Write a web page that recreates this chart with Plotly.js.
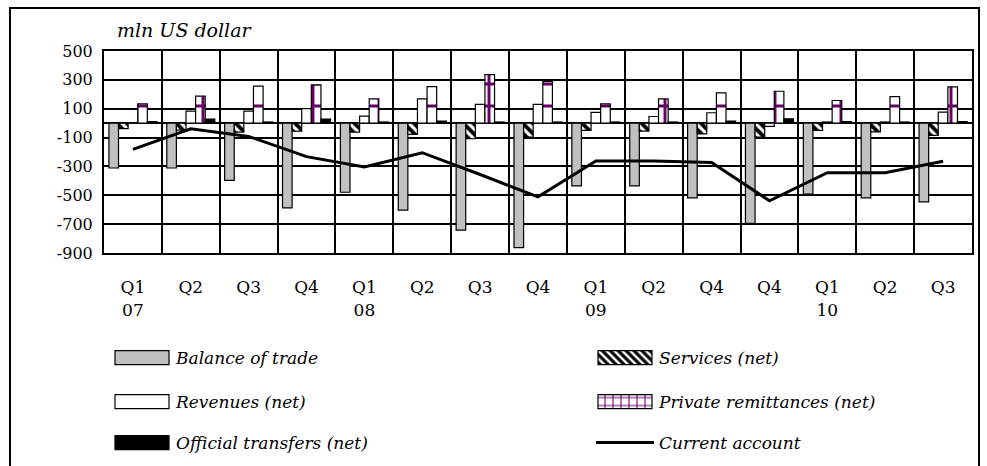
<!DOCTYPE html>
<html>
<head>
<meta charset="utf-8">
<script src="https://cdn.plot.ly/plotly-3.0.1.min.js"></script>
<style>
  html, body { margin: 0; padding: 0; background: #fff; }
  #chart { width: 987px; height: 466px; }
</style>
</head>
<body>
<div id="chart"></div>
<script>
// ---- data (mln US dollar) ----
const periods = ["07Q1","07Q2","07Q3","07Q4","08Q1","08Q2","08Q3","08Q4","09Q1","09Q2","09Q3","09Q4","10Q1","10Q2","10Q3"];
const tickLabels = ["Q1<br>07","Q2","Q3","Q4","Q1<br>08","Q2","Q3","Q4","Q1<br>09","Q2","Q4","Q4","Q1<br>10","Q2","Q3"];
const balanceOfTrade = [-311,-311,-396,-587,-479,-603,-741,-863,-435,-435,-518,-695,-492,-518,-545];
const servicesNet = [-38,-48,-62,-55,-62,-78,-108,-97,-50,-55,-75,-97,-50,-60,-85];
const revenuesNet = [3,83,83,100,48,168,130,130,74,46,72,-22,8,8,76];
const remittancesNet = [134,187,256,265,168,253,336,290,134,168,210,221,157,184,251];
const officialTransfers = [10,28,8,28,8,15,8,8,8,8,15,30,10,8,10];
const currentAccount = [-182,-39,-92,-232,-304,-205,-356,-511,-262,-262,-273,-538,-343,-343,-264];
const yTickVals = [500,300,100,-100,-300,-500,-700,-900];
const yTickText = ["500","300","100","-100","-300","-500","-700","-900"];

const FONT = "DejaVu Serif, Liberation Serif, serif";
const outline = {color: "#000", width: 1.2};

const traces = [
  {type: "bar", name: "Balance of trade", x: periods, y: balanceOfTrade, showlegend: true,
   marker: {color: "#c0c0c0", line: outline}, legend: "legend"},
  {type: "bar", name: "Services (net)", x: periods, y: servicesNet, showlegend: true,
   marker: {color: "#fff", line: outline,
            pattern: {shape: "\\", fgcolor: "#000", bgcolor: "#fff", size: 7, solidity: 0.55}},
   legend: "legend2"},
  {type: "bar", name: "Revenues (net)", x: periods, y: revenuesNet, showlegend: true,
   marker: {color: "#fff", line: outline}, legend: "legend3"},
  {type: "bar", name: "Private remittances (net)", x: periods, y: remittancesNet, showlegend: true,
   marker: {color: "#fff", line: outline,
            pattern: {shape: "+", fgcolor: "#660066", bgcolor: "#fff", size: 22, solidity: 0.25}},
   legend: "legend4"},
  {type: "bar", name: "Official transfers (net)", x: periods, y: officialTransfers, showlegend: true,
   marker: {color: "#000", line: outline}, legend: "legend5"},
  {type: "scatter", mode: "lines", name: "Current account", x: periods, y: currentAccount, showlegend: true,
   line: {color: "#000", width: 3}, legend: "legend6"}
];

const L = 104, R = 15, T = 51, B = 213;
const W = 987, H = 466;
const pw = W - L - R, ph = H - T - B;
const px = v => (v - L) / pw;           // pixel x -> paper
const py = v => (H - B - v) / ph;       // pixel y -> paper

const legendBase = {
  orientation: "h", xanchor: "left", yanchor: "middle", itemwidth: 58,
  yref: "container",
  font: {family: FONT, size: 17, color: "#000", style: "italic"},
  bgcolor: "rgba(0,0,0,0)", borderwidth: 0,
  itemclick: false, itemdoubleclick: false
};
const leg = (xp, yp) => Object.assign({}, legendBase, {x: px(xp), y: 1 - yp / H});

const layout = {
  width: W, height: H,
  showlegend: true,
  margin: {l: L, r: R, t: T, b: B, pad: 0},
  paper_bgcolor: "#fff", plot_bgcolor: "#fff",
  font: {family: FONT, size: 16, color: "#000"},
  barmode: "group", bargap: 0.17, bargroupgap: 0,
  title: {text: "mln US dollar", font: {family: FONT, size: 19, style: "italic", color: "#000"},
          xref: "paper", x: px(117), xanchor: "left", yref: "container", y: 1 - 30 / H, yanchor: "middle"},
  xaxis: {type: "category", tickmode: "array", tickvals: periods, ticktext: tickLabels,
          tickson: "boundaries", ticks: "", showgrid: true, gridcolor: "#000", gridwidth: 2,
          showline: true, linecolor: "#000", linewidth: 2, mirror: true,
          ticklabelstandoff: 18, tickfont: {family: FONT, size: 17}},
  yaxis: {range: [-900, 500], tickmode: "array", tickvals: yTickVals, ticktext: yTickText,
          showgrid: true, gridcolor: "#000", gridwidth: 2,
          zeroline: true, zerolinecolor: "#000", zerolinewidth: 1.5,
          showline: true, linecolor: "#000", linewidth: 2, mirror: true,
          ticks: "", ticklabelstandoff: 6, tickfont: {family: FONT, size: 16}},
  legend: leg(108, 358),
  legend2: leg(591, 358),
  legend3: leg(108, 402),
  legend4: leg(591, 402),
  legend5: leg(108, 443),
  legend6: leg(591, 443),
  shapes: [{type: "rect", xref: "paper", yref: "paper",
            x0: px(10), x1: px(979), y0: py(8), y1: py(490),
            line: {color: "#000", width: 2}, fillcolor: "rgba(0,0,0,0)", layer: "below"}]
};

function widenKeys() {
  // make bar legend keys wide and flat like the reference
  document.querySelectorAll("#chart .legendpoints path").forEach(p => {
    const d = (p.getAttribute("d") || "").replace(/\s/g, "");
    if (d === "M6,6H-6V-6H6Z") p.setAttribute("d", "M27,7H-27V-7H27Z");
  });
}

Plotly.newPlot("chart", traces, layout, {displayModeBar: false, staticPlot: true}).then(widenKeys);
</script>
</body>
</html>
